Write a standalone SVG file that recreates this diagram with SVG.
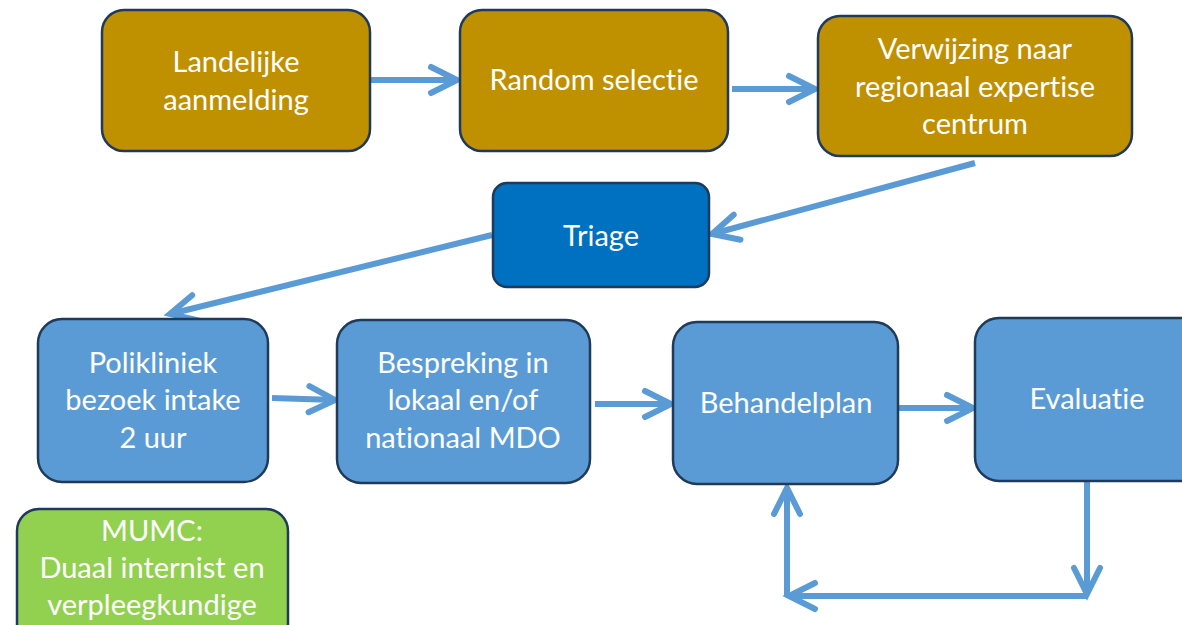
<svg xmlns="http://www.w3.org/2000/svg" width="1182" height="625" viewBox="0 0 1182 625">
<style>
.box{stroke:#1F3A5A;stroke-width:2.5}
.gold{fill:#BF9000}
.dblue{fill:#0070C0}
.blue{fill:#5B9BD5}
.green{fill:#92D050}
text{font-family:Lato,"Open Sans","Liberation Sans",sans-serif;font-size:29px;fill:#FFFFFF;text-anchor:middle;font-variant-ligatures:none}
.conn{stroke:#5B9BD5;stroke-width:6;fill:none}
</style>
<defs>
<marker id="ah" markerUnits="userSpaceOnUse" markerWidth="40" markerHeight="40" viewBox="-30 -20 34 40" refX="0" refY="0" orient="auto" overflow="visible">
<path d="M-26,-13 L0,0 L-26,13" fill="none" stroke="#5B9BD5" stroke-width="6" stroke-linecap="round" stroke-linejoin="miter"/>
</marker>
</defs>
<rect width="1182" height="625" fill="#FFFFFF"/>
<g id="connectors">
<line class="conn" x1="370" y1="80" x2="457" y2="80" marker-end="url(#ah)"/>
<line class="conn" x1="732" y1="89" x2="815" y2="89" marker-end="url(#ah)"/>
<line class="conn" x1="975" y1="163" x2="712" y2="234" marker-end="url(#ah)"/>
<line class="conn" x1="492" y1="235" x2="170" y2="314" marker-end="url(#ah)"/>
<line class="conn" x1="272" y1="398" x2="335" y2="400" marker-end="url(#ah)"/>
<line class="conn" x1="595" y1="404" x2="671" y2="404" marker-end="url(#ah)"/>
<line class="conn" x1="898" y1="408" x2="973" y2="408" marker-end="url(#ah)"/>
<line class="conn" x1="1087" y1="481" x2="1087" y2="594" marker-end="url(#ah)"/>
<line class="conn" x1="1087" y1="596" x2="789" y2="596" marker-end="url(#ah)"/>
<line class="conn" x1="787" y1="596" x2="787" y2="488" marker-end="url(#ah)"/>
</g>
<g id="n1"><rect class="box gold" x="102" y="10" width="268" height="141" rx="22"/><text x="236" y="72">Landelijke</text><text x="236" y="110">aanmelding</text></g>
<g id="n2"><rect class="box gold" x="460" y="10" width="268" height="141" rx="22"/><text x="594" y="90">Random selectie</text></g>
<g id="n3"><rect class="box gold" x="818" y="16" width="314" height="140" rx="22"/><text x="975" y="59">Verwijzing naar</text><text x="975" y="97">regionaal expertise</text><text x="975" y="134">centrum</text></g>
<g id="n4"><rect class="box dblue" x="493" y="183" width="216" height="104" rx="14"/><text x="601" y="246">Triage</text></g>
<g id="n5"><rect class="box blue" x="38" y="319" width="230" height="163" rx="24"/><text x="153" y="373">Polikliniek</text><text x="153" y="410">bezoek intake</text><text x="153" y="448">2 uur</text></g>
<g id="n6"><rect class="box blue" x="337" y="320" width="253" height="163" rx="24"/><text x="463" y="373">Bespreking in</text><text x="463" y="410">lokaal en/of</text><text x="463" y="448">nationaal MDO</text></g>
<g id="n7"><rect class="box blue" x="673" y="322" width="225" height="162" rx="24"/><text x="786" y="413">Behandelplan</text></g>
<g id="n8"><rect class="box blue" x="975" y="318" width="230" height="163" rx="24"/><text x="1087" y="409">Evaluatie</text></g>
<g id="n9"><rect class="box green" x="17" y="509" width="271" height="140" rx="22"/><text x="152" y="541">MUMC:</text><text x="152" y="578">Duaal internist en</text><text x="152" y="615">verpleegkundige</text></g>
</svg>
